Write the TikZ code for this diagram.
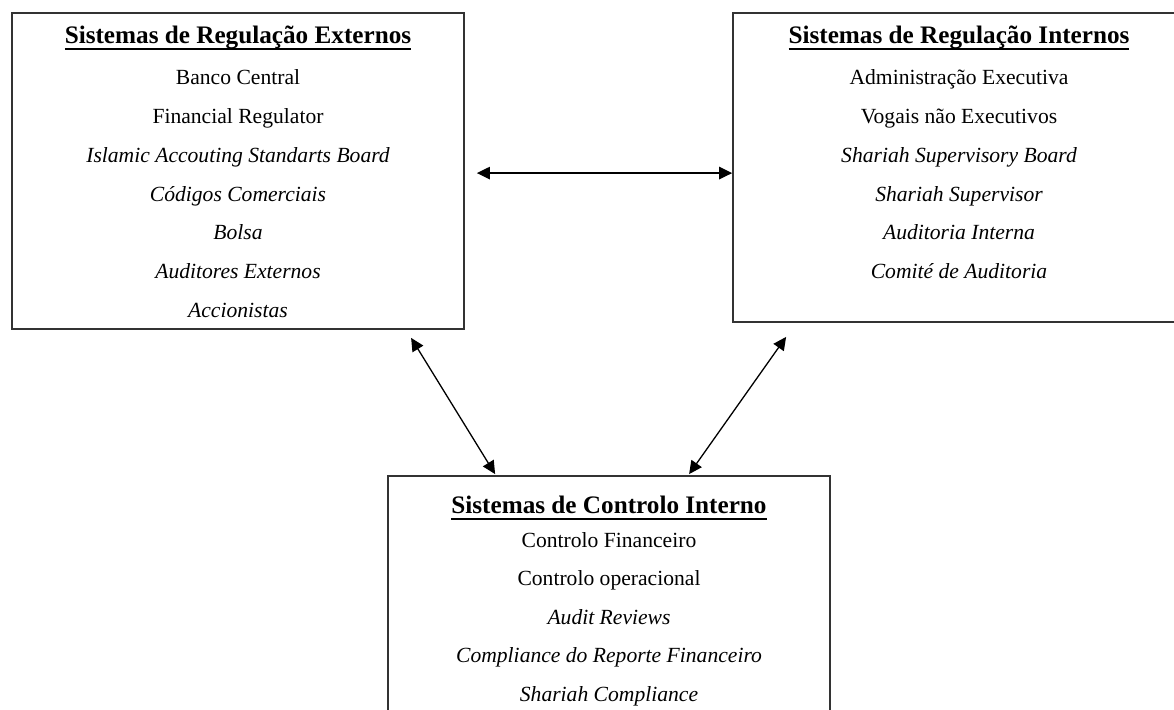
\documentclass[tikz,border=0pt]{standalone}
\usepackage{fontspec}
\setmainfont{Liberation Serif}
\usetikzlibrary{arrows.meta,calc}

% underline set through the descenders, as a word processor draws it
\newcommand\titleline[1]{\leavevmode\setbox0\hbox{#1}\rlap{\rule[-6.5pt]{\wd0}{2pt}}\box0}

\tikzset{
  panel/.style={draw=black!80, line width=1.8pt, rectangle, inner sep=0pt},
  heading/.style={anchor=base, inner sep=0pt, font=\fontsize{25.2}{30}\selectfont\bfseries},
  entry/.style={anchor=base, inner sep=0pt, font=\fontsize{21.6}{26}\selectfont},
  link/.style={line width=1.3pt, {Triangle[length=13pt,width=12.5pt]}-{Triangle[length=13pt,width=12.5pt]}}
}

\begin{document}
\begin{tikzpicture}[x=1pt,y=-1pt]
\useasboundingbox (0,0) rectangle (1174,709);
\clip (0,0) rectangle (1174,709);

% the three panels
\node[panel, minimum width=452pt, minimum height=316pt] (ext) at (238,171) {};
\node[panel, minimum width=452pt, minimum height=309pt] (int) at (959,167.5) {};
\node[panel, minimum width=442pt, minimum height=300pt] (ctl) at (609,626) {};

% external regulation
\node[heading] (extT) at (238,44) {\titleline{Sistemas de Regulação Externos}};
\node[entry] (ext1) at (238,84)  {Banco Central};
\node[entry] (ext2) at (238,123) {Financial Regulator};
\node[entry] (ext3) at (238,162) {\itshape Islamic Accouting Standarts Board};
\node[entry] (ext4) at (238,201) {\itshape Códigos Comerciais};
\node[entry] (ext5) at (238,239) {\itshape Bolsa};
\node[entry] (ext6) at (238,278) {\itshape Auditores Externos};
\node[entry] (ext7) at (238,317) {\itshape Accionistas};

% internal regulation
\node[heading] (intT) at (959,44) {\titleline{Sistemas de Regulação Internos}};
\node[entry] (int1) at (959,84)  {Administração Executiva};
\node[entry] (int2) at (959,123) {Vogais não Executivos};
\node[entry] (int3) at (959,162) {\itshape Shariah Supervisory Board};
\node[entry] (int4) at (959,201) {\itshape Shariah Supervisor};
\node[entry] (int5) at (959,239) {\itshape Auditoria Interna};
\node[entry] (int6) at (959,278) {\itshape Comité de Auditoria};

% internal control
\node[heading] (ctlT) at (609,513) {\titleline{Sistemas de Controlo Interno}};
\node[entry] (ctl1) at (609,547) {Controlo Financeiro};
\node[entry] (ctl2) at (609,585) {Controlo operacional};
\node[entry] (ctl3) at (609,624) {\itshape Audit Reviews};
\node[entry] (ctl4) at (609,662) {\itshape Compliance do Reporte Financeiro};
\node[entry] (ctl5) at (609,701) {\itshape Shariah Compliance};

% two-way links
\draw[link] ($(ext.north east)+(12,161)$) -- ($(int.north west)+(0,161)$);
\draw[link] ($(ext.south west)+(400,8)$) -- ($(ctl.north west)+(108,-1)$);
\draw[link] ($(int.south west)+(54,14)$) -- ($(ctl.north west)+(302,-1)$);
\end{tikzpicture}
\end{document}
